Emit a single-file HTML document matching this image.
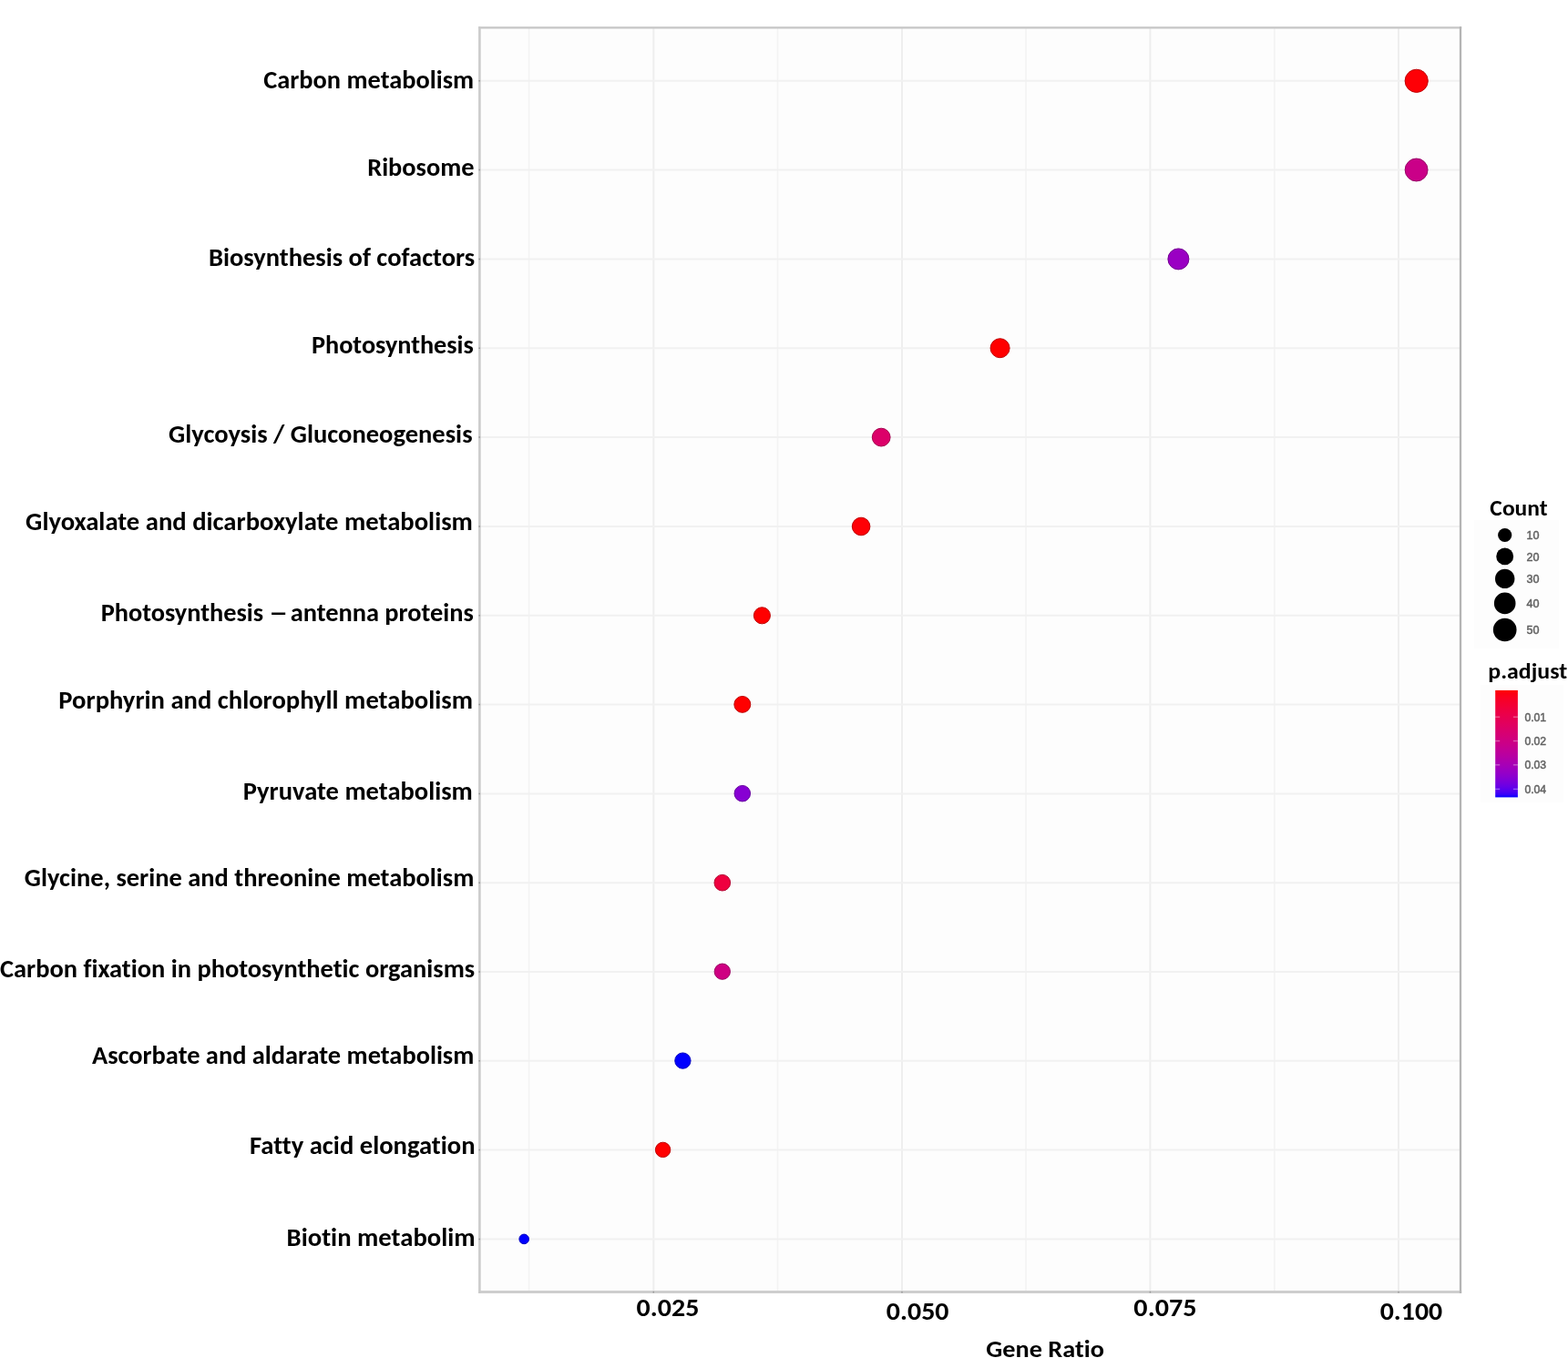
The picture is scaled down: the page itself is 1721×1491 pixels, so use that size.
<!DOCTYPE html><html><head><meta charset="utf-8"><title>KEGG enrichment dot plot</title><style>html,body{margin:0;padding:0;background:#fff;width:1721px;height:1491px;overflow:hidden}svg{display:block}text{font-variant-ligatures:none;font-feature-settings:"liga" 0,"clig" 0}</style></head><body>
<svg width="1721" height="1491" viewBox="0 0 1721 1491">
<defs><linearGradient id="pg" x1="0" y1="0" x2="0" y2="1">
<stop offset="0.000" stop-color="#ff0000"/>
<stop offset="0.025" stop-color="#fd000f"/>
<stop offset="0.050" stop-color="#fb001a"/>
<stop offset="0.075" stop-color="#f90023"/>
<stop offset="0.100" stop-color="#f6002a"/>
<stop offset="0.125" stop-color="#f40031"/>
<stop offset="0.150" stop-color="#f20037"/>
<stop offset="0.175" stop-color="#ef003e"/>
<stop offset="0.200" stop-color="#ed0044"/>
<stop offset="0.225" stop-color="#eb004a"/>
<stop offset="0.250" stop-color="#e80050"/>
<stop offset="0.275" stop-color="#e50055"/>
<stop offset="0.300" stop-color="#e3005b"/>
<stop offset="0.325" stop-color="#e00061"/>
<stop offset="0.350" stop-color="#dd0066"/>
<stop offset="0.375" stop-color="#da006c"/>
<stop offset="0.400" stop-color="#d70072"/>
<stop offset="0.425" stop-color="#d40077"/>
<stop offset="0.450" stop-color="#d1007d"/>
<stop offset="0.475" stop-color="#cd0083"/>
<stop offset="0.500" stop-color="#ca0088"/>
<stop offset="0.525" stop-color="#c6008e"/>
<stop offset="0.550" stop-color="#c20094"/>
<stop offset="0.575" stop-color="#be009a"/>
<stop offset="0.600" stop-color="#ba009f"/>
<stop offset="0.625" stop-color="#b500a5"/>
<stop offset="0.650" stop-color="#b000ab"/>
<stop offset="0.675" stop-color="#ab00b1"/>
<stop offset="0.700" stop-color="#a600b7"/>
<stop offset="0.725" stop-color="#a000bd"/>
<stop offset="0.750" stop-color="#9a00c3"/>
<stop offset="0.775" stop-color="#9400c8"/>
<stop offset="0.800" stop-color="#8d00ce"/>
<stop offset="0.825" stop-color="#8500d4"/>
<stop offset="0.850" stop-color="#7c00da"/>
<stop offset="0.875" stop-color="#7300e0"/>
<stop offset="0.900" stop-color="#6800e7"/>
<stop offset="0.925" stop-color="#5b00ed"/>
<stop offset="0.950" stop-color="#4b00f3"/>
<stop offset="0.975" stop-color="#3500f9"/>
<stop offset="1.000" stop-color="#0000ff"/>
</linearGradient></defs>
<rect x="0" y="0" width="1721" height="1491" fill="#ffffff"/>
<rect x="526.4" y="30.4" width="1076.6" height="1388.1" fill="#fdfdfd"/>
<line x1="580.6" y1="30.4" x2="580.6" y2="1418.5" stroke="#f3f3f3" stroke-width="1.6"/>
<line x1="853.5" y1="30.4" x2="853.5" y2="1418.5" stroke="#f3f3f3" stroke-width="1.6"/>
<line x1="1126.0" y1="30.4" x2="1126.0" y2="1418.5" stroke="#f3f3f3" stroke-width="1.6"/>
<line x1="1398.8" y1="30.4" x2="1398.8" y2="1418.5" stroke="#f3f3f3" stroke-width="1.6"/>
<line x1="717.3" y1="30.4" x2="717.3" y2="1418.5" stroke="#eeeeee" stroke-width="2"/>
<line x1="990.0" y1="30.4" x2="990.0" y2="1418.5" stroke="#eeeeee" stroke-width="2"/>
<line x1="1262.4" y1="30.4" x2="1262.4" y2="1418.5" stroke="#eeeeee" stroke-width="2"/>
<line x1="1535.0" y1="30.4" x2="1535.0" y2="1418.5" stroke="#eeeeee" stroke-width="2"/>
<line x1="526.4" y1="88.8" x2="1603.0" y2="88.8" stroke="#f1f1f1" stroke-width="2"/>
<line x1="526.4" y1="186.6" x2="1603.0" y2="186.6" stroke="#f1f1f1" stroke-width="2"/>
<line x1="526.4" y1="284.4" x2="1603.0" y2="284.4" stroke="#f1f1f1" stroke-width="2"/>
<line x1="526.4" y1="382.3" x2="1603.0" y2="382.3" stroke="#f1f1f1" stroke-width="2"/>
<line x1="526.4" y1="480.1" x2="1603.0" y2="480.1" stroke="#f1f1f1" stroke-width="2"/>
<line x1="526.4" y1="577.9" x2="1603.0" y2="577.9" stroke="#f1f1f1" stroke-width="2"/>
<line x1="526.4" y1="675.7" x2="1603.0" y2="675.7" stroke="#f1f1f1" stroke-width="2"/>
<line x1="526.4" y1="773.5" x2="1603.0" y2="773.5" stroke="#f1f1f1" stroke-width="2"/>
<line x1="526.4" y1="871.4" x2="1603.0" y2="871.4" stroke="#f1f1f1" stroke-width="2"/>
<line x1="526.4" y1="969.2" x2="1603.0" y2="969.2" stroke="#f1f1f1" stroke-width="2"/>
<line x1="526.4" y1="1067.0" x2="1603.0" y2="1067.0" stroke="#f1f1f1" stroke-width="2"/>
<line x1="526.4" y1="1164.8" x2="1603.0" y2="1164.8" stroke="#f1f1f1" stroke-width="2"/>
<line x1="526.4" y1="1262.6" x2="1603.0" y2="1262.6" stroke="#f1f1f1" stroke-width="2"/>
<line x1="526.4" y1="1360.5" x2="1603.0" y2="1360.5" stroke="#f1f1f1" stroke-width="2"/>
<line x1="525.1" y1="30.4" x2="1604.2" y2="30.4" stroke="#c6c6c6" stroke-width="2.2"/>
<line x1="525.1" y1="1418.5" x2="1604.2" y2="1418.5" stroke="#cecece" stroke-width="2.8"/>
<line x1="526.4" y1="29.3" x2="526.4" y2="1419.9" stroke="#cbcbcb" stroke-width="2.6"/>
<line x1="1603.0" y1="29.3" x2="1603.0" y2="1419.9" stroke="#b5b5b5" stroke-width="2.3"/>
<line x1="525.4" y1="88.8" x2="527.0" y2="88.8" stroke="#999999" stroke-width="1.5"/>
<line x1="525.4" y1="186.6" x2="527.0" y2="186.6" stroke="#999999" stroke-width="1.5"/>
<line x1="525.4" y1="284.4" x2="527.0" y2="284.4" stroke="#999999" stroke-width="1.5"/>
<line x1="525.4" y1="382.3" x2="527.0" y2="382.3" stroke="#999999" stroke-width="1.5"/>
<line x1="525.4" y1="480.1" x2="527.0" y2="480.1" stroke="#999999" stroke-width="1.5"/>
<line x1="525.4" y1="577.9" x2="527.0" y2="577.9" stroke="#999999" stroke-width="1.5"/>
<line x1="525.4" y1="675.7" x2="527.0" y2="675.7" stroke="#999999" stroke-width="1.5"/>
<line x1="525.4" y1="773.5" x2="527.0" y2="773.5" stroke="#999999" stroke-width="1.5"/>
<line x1="525.4" y1="871.4" x2="527.0" y2="871.4" stroke="#999999" stroke-width="1.5"/>
<line x1="525.4" y1="969.2" x2="527.0" y2="969.2" stroke="#999999" stroke-width="1.5"/>
<line x1="525.4" y1="1067.0" x2="527.0" y2="1067.0" stroke="#999999" stroke-width="1.5"/>
<line x1="525.4" y1="1164.8" x2="527.0" y2="1164.8" stroke="#999999" stroke-width="1.5"/>
<line x1="525.4" y1="1262.6" x2="527.0" y2="1262.6" stroke="#999999" stroke-width="1.5"/>
<line x1="525.4" y1="1360.5" x2="527.0" y2="1360.5" stroke="#999999" stroke-width="1.5"/>
<line x1="717.3" y1="1417.9" x2="717.3" y2="1419.5" stroke="#999999" stroke-width="1.5"/>
<line x1="990.0" y1="1417.9" x2="990.0" y2="1419.5" stroke="#999999" stroke-width="1.5"/>
<line x1="1262.4" y1="1417.9" x2="1262.4" y2="1419.5" stroke="#999999" stroke-width="1.5"/>
<line x1="1535.0" y1="1417.9" x2="1535.0" y2="1419.5" stroke="#999999" stroke-width="1.5"/>
<circle cx="1554.7" cy="88.8" r="12.60" fill="#fe0006" stroke="#bf0005" stroke-width="1"/>
<circle cx="1554.6" cy="186.5" r="12.45" fill="#ca0088" stroke="#970066" stroke-width="1"/>
<circle cx="1293.4" cy="284.4" r="11.50" fill="#9a00c3" stroke="#740092" stroke-width="1"/>
<circle cx="1097.6" cy="382.2" r="10.50" fill="#ff0000" stroke="#bf0000" stroke-width="1"/>
<circle cx="967.2" cy="480.1" r="9.90" fill="#dc0069" stroke="#a5004e" stroke-width="1"/>
<circle cx="945.1" cy="578.0" r="9.80" fill="#fe0006" stroke="#bf0005" stroke-width="1"/>
<circle cx="836.4" cy="675.8" r="9.05" fill="#ff0000" stroke="#bf0000" stroke-width="1"/>
<circle cx="814.8" cy="773.4" r="8.95" fill="#ff0000" stroke="#bf0000" stroke-width="1"/>
<circle cx="814.8" cy="871.2" r="8.75" fill="#8700d3" stroke="#65009e" stroke-width="1"/>
<circle cx="792.8" cy="969.2" r="8.80" fill="#ef003f" stroke="#b3002f" stroke-width="1"/>
<circle cx="792.8" cy="1066.7" r="8.65" fill="#ce0082" stroke="#9a0061" stroke-width="1"/>
<circle cx="749.4" cy="1164.6" r="8.65" fill="#0000ff" stroke="#0000bf" stroke-width="1"/>
<circle cx="727.6" cy="1262.4" r="8.20" fill="#ff0000" stroke="#bf0000" stroke-width="1"/>
<circle cx="575.2" cy="1360.4" r="5.30" fill="#0000ff" stroke="#0000bf" stroke-width="1"/>
<g font-family="Carlito, 'Liberation Sans', Arial, sans-serif" font-weight="bold" fill="#000" style="font-size-adjust:0.4849">
<text x="289.22" y="97.20" font-size="27.20" textLength="230.92" lengthAdjust="spacingAndGlyphs">Carbon metabolism</text>
<text x="403.16" y="193.20" font-size="27.20" textLength="117.39" lengthAdjust="spacingAndGlyphs">Ribosome</text>
<text x="228.94" y="291.70" font-size="27.20" textLength="292.28" lengthAdjust="spacingAndGlyphs">Biosynthesis of cofactors</text>
<text x="342.01" y="387.70" font-size="27.20" textLength="177.80" lengthAdjust="spacingAndGlyphs">Photosynthesis</text>
<text x="185.05" y="486.30" font-size="27.20" textLength="333.48" lengthAdjust="spacingAndGlyphs">Glycoysis / Gluconeogenesis</text>
<text x="28.14" y="582.20" font-size="27.20" textLength="490.81" lengthAdjust="spacingAndGlyphs">Glyoxalate and dicarboxylate metabolism</text>
<text x="110.71" y="682.00" font-size="27.20" textLength="178.31" lengthAdjust="spacingAndGlyphs">Photosynthesis</text>
<text x="295.11" y="682.00" font-size="27.20" textLength="21.27" lengthAdjust="spacingAndGlyphs">–</text>
<text x="318.69" y="682.00" font-size="27.20" textLength="201.13" lengthAdjust="spacingAndGlyphs">antenna proteins</text>
<text x="64.29" y="778.00" font-size="27.20" textLength="454.66" lengthAdjust="spacingAndGlyphs">Porphyrin and chlorophyll metabolism</text>
<text x="266.70" y="878.20" font-size="27.20" textLength="252.15" lengthAdjust="spacingAndGlyphs">Pyruvate metabolism</text>
<text x="26.85" y="973.00" font-size="27.20" textLength="493.49" lengthAdjust="spacingAndGlyphs">Glycine, serine and threonine metabolism</text>
<text x="0.02" y="1072.60" font-size="27.20" textLength="521.11" lengthAdjust="spacingAndGlyphs">Carbon fixation in photosynthetic organisms</text>
<text x="100.94" y="1167.70" font-size="27.20" textLength="419.40" lengthAdjust="spacingAndGlyphs">Ascorbate and aldarate metabolism</text>
<text x="273.98" y="1267.30" font-size="27.20" textLength="247.62" lengthAdjust="spacingAndGlyphs">Fatty acid elongation</text>
<text x="314.63" y="1367.70" font-size="27.20" textLength="207.02" lengthAdjust="spacingAndGlyphs">Biotin metabolim</text>
<text x="698.59" y="1444.90" font-size="27.80" textLength="68.74" lengthAdjust="spacingAndGlyphs">0.025</text>
<text x="972.79" y="1448.90" font-size="27.80" textLength="68.73" lengthAdjust="spacingAndGlyphs">0.050</text>
<text x="1244.38" y="1444.90" font-size="27.80" textLength="69.05" lengthAdjust="spacingAndGlyphs">0.075</text>
<text x="1514.69" y="1448.90" font-size="27.80" textLength="68.52" lengthAdjust="spacingAndGlyphs">0.100</text>
<text x="1082.25" y="1489.50" font-size="26.70" textLength="129.60" lengthAdjust="spacingAndGlyphs">Gene Ratio</text>
<text x="1635.38" y="565.80" font-size="24.70" textLength="63.20" lengthAdjust="spacingAndGlyphs">Count</text>
<text x="1633.35" y="745.40" font-size="24.70" textLength="86.83" lengthAdjust="spacingAndGlyphs">p.adjust</text>
</g>
<rect x="1618" y="571" width="93" height="141" fill="#fdfdfd"/>
<rect x="1625" y="752" width="91" height="129" fill="#fdfdfd"/>
<g font-family="'Liberation Sans', Arial, Helvetica, sans-serif" font-size="12.6" fill="#616161">
<circle cx="1651.7" cy="587.5" r="7.60" fill="#000"/>
<text x="1675.4" y="592.1" stroke="#616161" stroke-width="0.45">10</text>
<circle cx="1651.7" cy="610.9" r="9.45" fill="#000"/>
<text x="1675.4" y="615.5" stroke="#616161" stroke-width="0.45">20</text>
<circle cx="1651.7" cy="635.4" r="10.70" fill="#000"/>
<text x="1675.4" y="640.0" stroke="#616161" stroke-width="0.45">30</text>
<circle cx="1651.7" cy="662.4" r="11.80" fill="#000"/>
<text x="1675.4" y="667.0" stroke="#616161" stroke-width="0.45">40</text>
<circle cx="1651.7" cy="691.5" r="12.85" fill="#000"/>
<text x="1675.4" y="696.1" stroke="#616161" stroke-width="0.45">50</text>
</g>
<rect x="1641.2" y="757.9" width="24.7" height="117.5" fill="url(#pg)"/>
<g font-family="'Liberation Sans', Arial, Helvetica, sans-serif" font-size="12.2" fill="#616161">
<line x1="1641.2" y1="787.2" x2="1646.2" y2="787.2" stroke="#ffffff" stroke-opacity="0.35" stroke-width="1.4"/>
<line x1="1660.9" y1="787.2" x2="1665.9" y2="787.2" stroke="#ffffff" stroke-opacity="0.35" stroke-width="1.4"/>
<text x="1673.4" y="791.7" stroke="#616161" stroke-width="0.45">0.01</text>
<line x1="1641.2" y1="813.5" x2="1646.2" y2="813.5" stroke="#ffffff" stroke-opacity="0.35" stroke-width="1.4"/>
<line x1="1660.9" y1="813.5" x2="1665.9" y2="813.5" stroke="#ffffff" stroke-opacity="0.35" stroke-width="1.4"/>
<text x="1673.4" y="818.0" stroke="#616161" stroke-width="0.45">0.02</text>
<line x1="1641.2" y1="839.8" x2="1646.2" y2="839.8" stroke="#ffffff" stroke-opacity="0.35" stroke-width="1.4"/>
<line x1="1660.9" y1="839.8" x2="1665.9" y2="839.8" stroke="#ffffff" stroke-opacity="0.35" stroke-width="1.4"/>
<text x="1673.4" y="844.3" stroke="#616161" stroke-width="0.45">0.03</text>
<line x1="1641.2" y1="866.4" x2="1646.2" y2="866.4" stroke="#ffffff" stroke-opacity="0.35" stroke-width="1.4"/>
<line x1="1660.9" y1="866.4" x2="1665.9" y2="866.4" stroke="#ffffff" stroke-opacity="0.35" stroke-width="1.4"/>
<text x="1673.4" y="870.9" stroke="#616161" stroke-width="0.45">0.04</text>
</g>
</svg></body></html>
